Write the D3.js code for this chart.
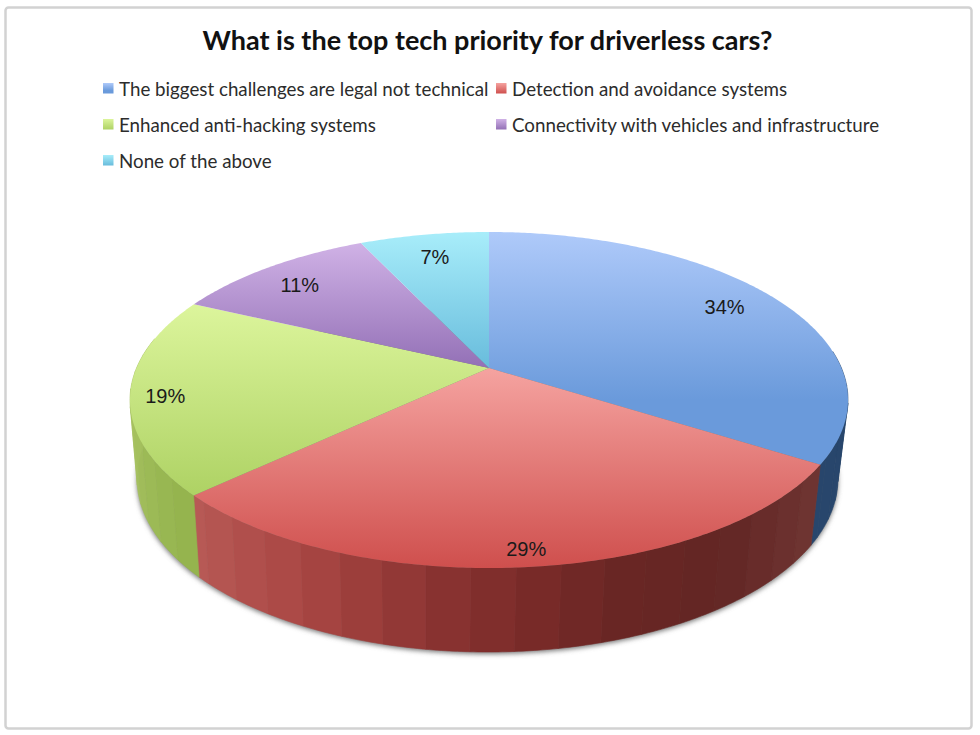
<!DOCTYPE html>
<html>
<head>
<meta charset="utf-8">
<script src="https://cdn.jsdelivr.net/npm/d3@7"></script>
<style>
  body { margin: 0; background: #fff; }
  svg { display: block; }
</style>
</head>
<body>
<svg width="980" height="735"></svg>
<script>
var title = "What is the top tech priority for driverless cars?";
var categories = ["The biggest challenges are legal not technical", "Detection and avoidance systems", "Enhanced anti-hacking systems", "Connectivity with vehicles and infrastructure", "None of the above"];
var values = [34, 29, 19, 11, 7];
var labels = ["34%", "29%", "19%", "11%", "7%"];

// best-fit label placement per slice: distance from the centre, then a small nudge down
var labelFit = [0.82, 0.925, 0.905, 0.845, 0.81];
var labelNudge = [-2, 0, 4, 4, 0];
var gradTop = ["#afcafa", "#f5a3a0", "#dcf59c", "#d0b2e6", "#a8edfa"];
var gradBottom = ["#6a9adb", "#cf4f4d", "#aed264", "#9370b6", "#68bcdc"];
var gradEnd = [0.72, 1, 1, 1, 1];

var svg = d3.select("svg");
var defs = svg.append("defs");

// the picture is a tilted disc: top and bottom faces are two ellipses,
// and the pie centre sits above the ellipse centre because of perspective
var tilt = 0.19;
var topX = d3.scaleLinear().domain([-1, 1]).range([130, 848]);
var topY = d3.scaleLinear().domain([-1, 1]).range([232, 568]);
var botX = d3.scaleLinear().domain([-1, 1]).range([137, 838]);
var botY = d3.scaleLinear().domain([-1, 1]).range([305, 652]);

function project(theta, r, sx, sy) {
  var x = r * Math.sin(theta), y = -r * Math.cos(theta);
  var k = 1 - tilt * y;
  return [sx(x * Math.sqrt(1 - tilt * tilt) / k), sy((y - tilt) / k)];
}

var pie = d3.pie().sort(null);
var slices = pie(values);
var line = d3.line();

function arcAngles(a0, a1) {
  var n = Math.max(2, Math.ceil((a1 - a0) / 0.01));
  return d3.range(n + 1).map(function(i) { return a0 + (a1 - a0) * i / n; });
}

slices.forEach(function(s, i) {
  var g = defs.append("linearGradient").attr("id", "grad" + i).attr("x1", 0).attr("y1", 0).attr("x2", 0).attr("y2", 1);
  g.append("stop").attr("offset", 0).attr("stop-color", gradTop[i]);
  g.append("stop").attr("offset", gradEnd[i]).attr("stop-color", gradBottom[i]);
});

var blur = defs.append("filter").attr("id", "soft").attr("x", "-5%").attr("y", "-5%").attr("width", "110%").attr("height", "110%");
blur.append("feGaussianBlur").attr("stdDeviation", 2.5);

// chart frame
svg.append("rect").attr("x", 5.5).attr("y", 7.5).attr("width", 966).attr("height", 721).attr("rx", 3)
  .attr("fill", "#fff").attr("stroke", "#d2d2d2").attr("stroke-width", 2.5);

svg.append("text").attr("x", 487.5).attr("y", 50).attr("text-anchor", "middle")
  .style("font-family", "Lato, sans-serif").style("font-weight", "700").style("font-size", "27px")
  .attr("fill", "#111").text(title);

// legend
var legendX = d3.scaleOrdinal().domain([0, 1]).range([103, 496]);
var legendY = d3.scaleLinear().domain([0, 2]).range([83, 155]);
var legend = svg.selectAll(".legend").data(categories).enter().append("g").attr("class", "legend")
  .attr("transform", function(d, i) { return "translate(" + legendX(i % 2) + "," + legendY(Math.floor(i / 2)) + ")"; });
legend.append("rect").attr("width", 10.5).attr("height", 10.5).attr("fill", function(d, i) { return "url(#grad" + i + ")"; });
legend.append("text").attr("x", 16).attr("y", 12.5)
  .style("font-family", "Lato, sans-serif").style("font-size", "18.75px").attr("fill", "#2c2c2c")
  .text(function(d) { return d; });

// soft shadow under the disc
svg.append("path")
  .attr("d", line(arcAngles(0, 2 * Math.PI).map(function(a) { return project(a, 1, botX, botY); })) + "Z")
  .attr("transform", "translate(0,2)")
  .attr("fill", "#777").attr("filter", "url(#soft)");

// side wall, built from flat facets like the original
var wallDark = [
  d3.scaleLinear().domain([0, 7]).range(["#28466c", "#28466c"]),
  d3.scaleLinear().domain([2.2, 2.55, 2.85, 3.05, 3.2, 3.6, 3.96]).range(["#6e3431", "#632624", "#6a2624", "#7a2b29", "#85302e", "#aa4744", "#b85a56"]),
  d3.scaleLinear().domain([3.96, 4.5, 5.15]).range(["#93b34c", "#a6c161", "#9dbb55"]),
  d3.scaleLinear().domain([0, 7]).range(["#7f62a0", "#7f62a0"]),
  d3.scaleLinear().domain([0, 7]).range(["#5fa8c4", "#5fa8c4"])
];
var facetStep = 2 * Math.PI / 60;
slices.forEach(function(s, i) {
  var n = Math.ceil((s.endAngle - s.startAngle) / facetStep);
  d3.range(n).forEach(function(j) {
    var a0 = s.startAngle + j * facetStep;
    var a1 = Math.min(a0 + facetStep, s.endAngle);
    // the back half of the wall is hidden behind the top face
    if (Math.cos(a0) > 0.1 && Math.cos(a1) > 0.1) return;
    var angles = arcAngles(a0, a1);
    var pts = angles.map(function(a) { return project(a, 1, topX, topY); })
      .concat(angles.slice().reverse().map(function(a) { return project(a, 1, botX, botY); }));
    svg.append("path").attr("class", "wall").attr("d", line(pts) + "Z")
      .attr("fill", wallDark[i]((a0 + a1) / 2)).attr("stroke", wallDark[i]((a0 + a1) / 2)).attr("stroke-width", 0.6);
  });
});

// top face
svg.selectAll(".slice").data(slices).enter().append("path").attr("class", "slice")
  .attr("d", function(d) {
    var pts = [project(0, 0, topX, topY)].concat(arcAngles(d.startAngle, d.endAngle).map(function(a) { return project(a, 1, topX, topY); }));
    return line(pts) + "Z";
  })
  .attr("fill", function(d, i) { return "url(#grad" + i + ")"; });

// data labels
svg.selectAll(".pct").data(slices).enter().append("text").attr("class", "pct")
  .attr("transform", function(d, i) {
    var p = project((d.startAngle + d.endAngle) / 2, labelFit[i], topX, topY);
    return "translate(" + p[0] + "," + (p[1] + 7 + labelNudge[i]) + ")";
  })
  .attr("text-anchor", "middle")
  .style("font-family", "'Liberation Sans', Arial, sans-serif").style("font-size", "20px").attr("fill", "#1a1a1a")
  .text(function(d, i) { return labels[i]; });
</script>
</body>
</html>
